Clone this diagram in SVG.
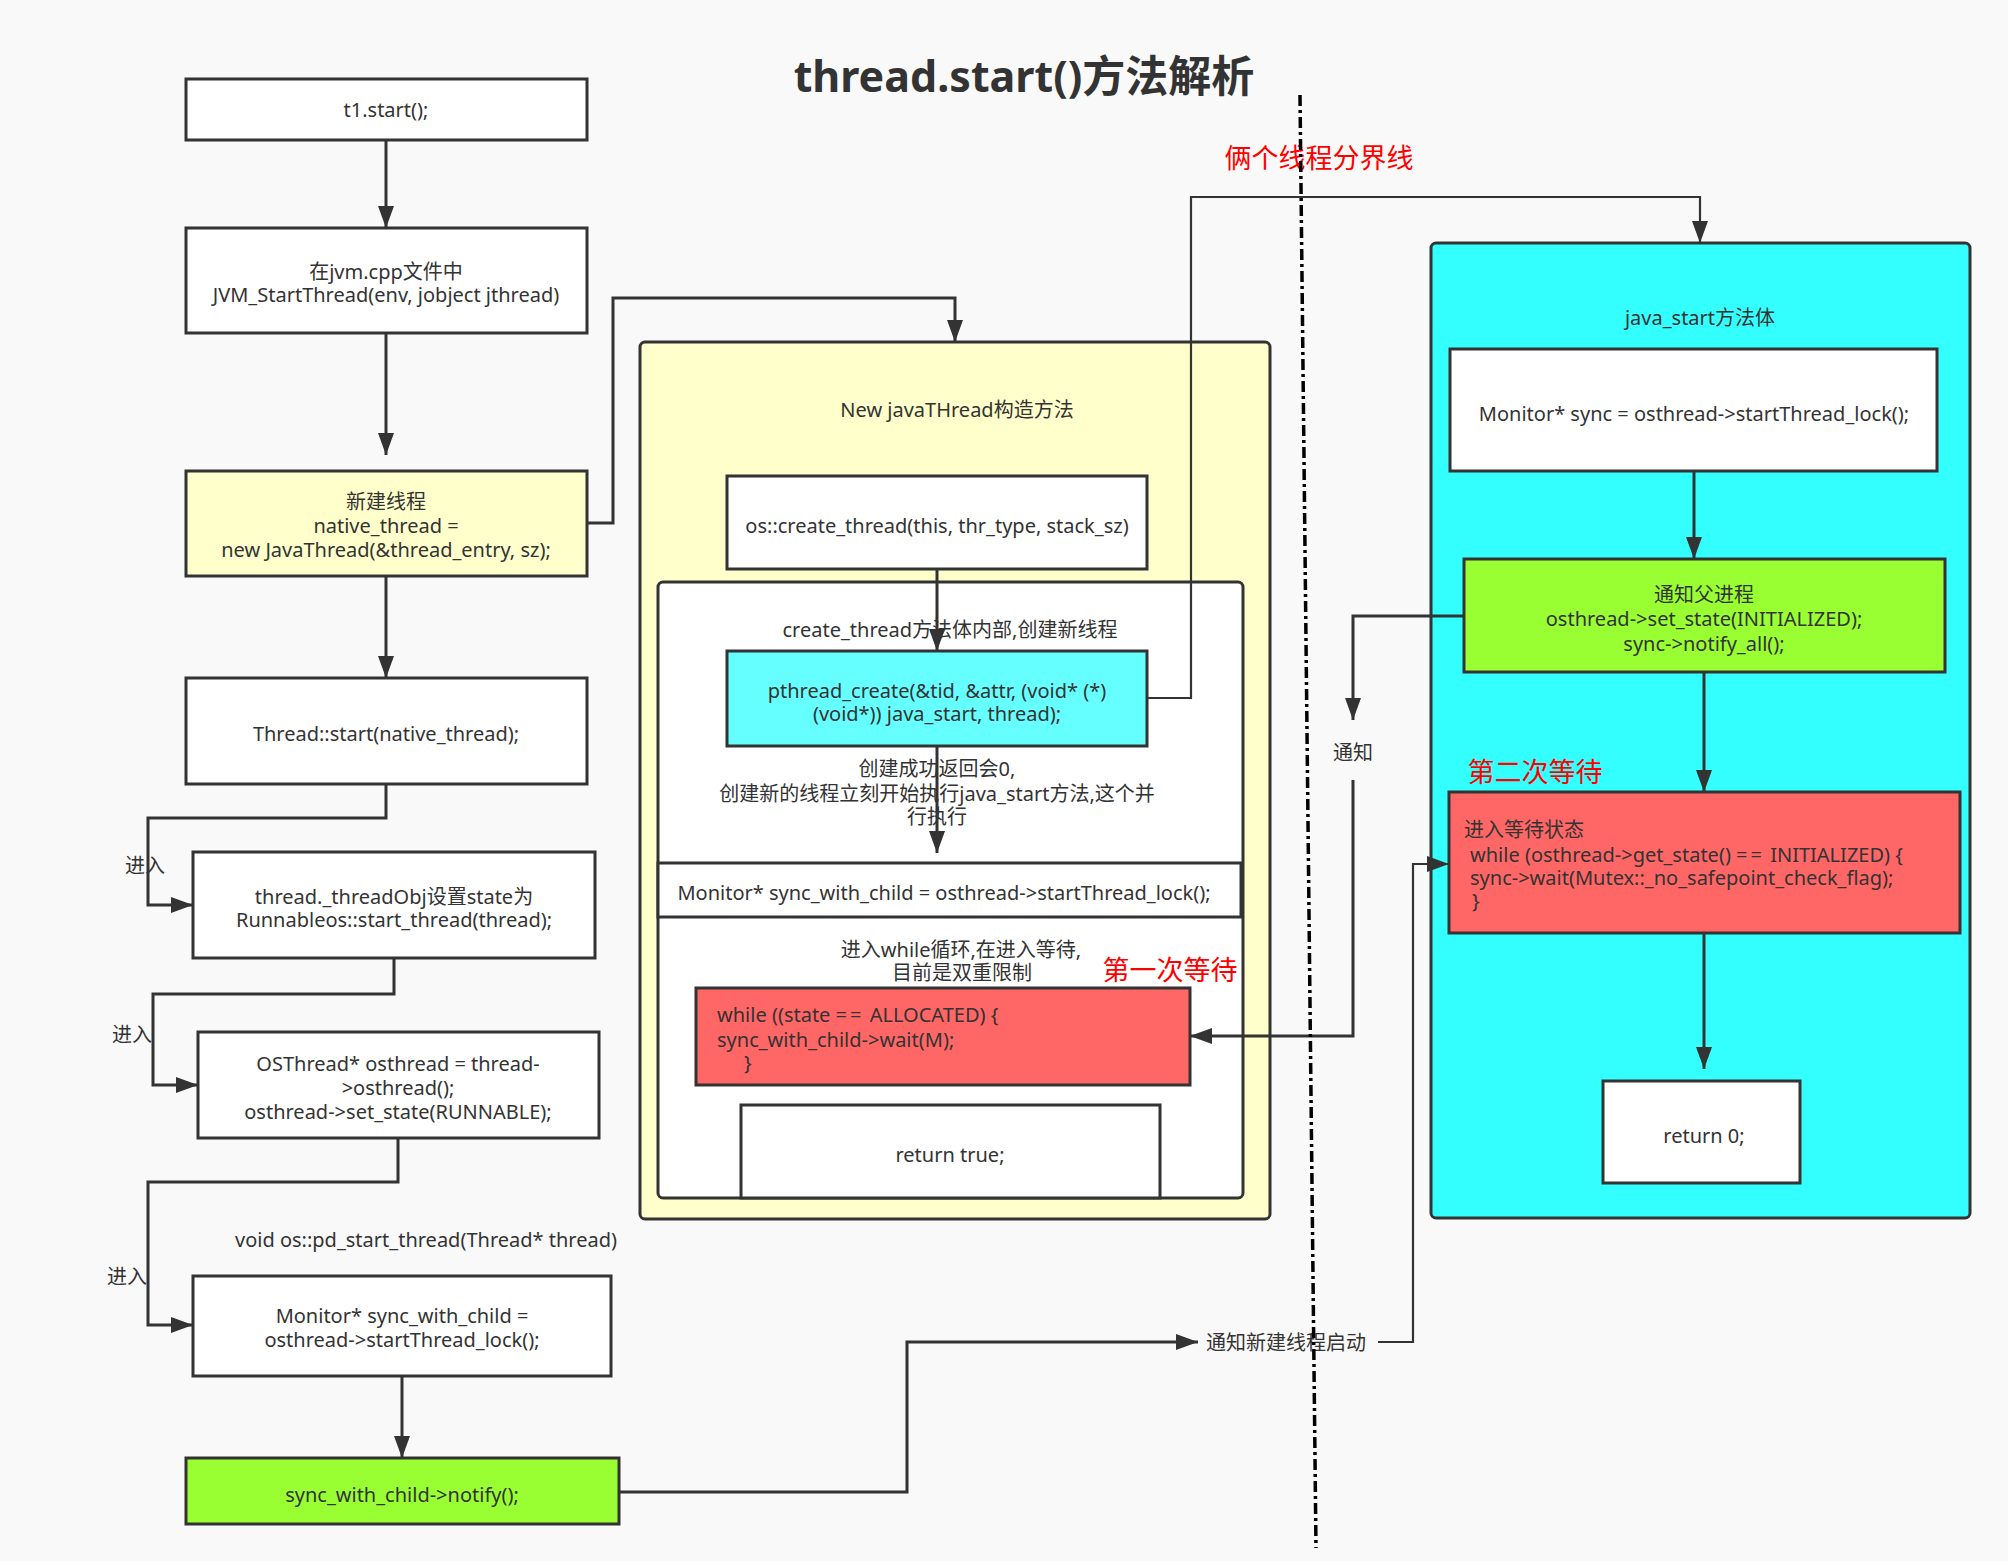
<svg xmlns="http://www.w3.org/2000/svg" width="2008" height="1561" viewBox="0 0 2008 1561">
<defs>
<marker id="arr" markerUnits="userSpaceOnUse" markerWidth="24" markerHeight="18" refX="22" refY="8" orient="auto">
<path d="M0,0 L22,8 L0,16 Z" fill="#333333"/>
</marker>
<style>
text{font-family:"Noto Sans","Noto Sans CJK SC",sans-serif;font-size:20px;fill:#333333}
.c{text-anchor:middle}
.red{fill:#ff0000;font-size:27px}
.box{stroke:#333333;stroke-width:3}
.w{fill:#ffffff}
.y{fill:#ffffcc}
.g{fill:#99ff33}
.r{fill:#ff6666}
.cy{fill:#66ffff}
.cy2{fill:#33ffff}
.ln{fill:none;stroke:#333333;stroke-width:3}
.ln2{fill:none;stroke:#333333;stroke-width:2.2}
.eq{letter-spacing:3px}
</style>
</defs>
<rect x="0" y="0" width="2008" height="1561" fill="#f9f9f9"/>

<text x="1024" y="92" class="c" style="font-size:43px;font-weight:bold">thread.start()方法解析</text>

<g id="container-javathread">
<rect x="640" y="342" width="630" height="877" rx="5" class="box y"/>
<text x="957" y="417" class="c">New javaTHread构造方法</text>
</g>
<g id="container-createthread">
<rect x="658" y="582" width="585" height="616" rx="5" class="box w"/>
<text x="950" y="637" class="c">create_thread方法体内部,创建新线程</text>
</g>
<g id="container-javastart">
<rect x="1431" y="243" width="539" height="975" rx="5" class="box cy2"/>
<text x="1700" y="325" class="c">java_start方法体</text>
</g>

<g id="n-t1start"><rect x="186" y="79" width="401" height="61" class="box w"/><text x="386" y="117" class="c">t1.start();</text></g>
<g id="n-jvm"><rect x="186" y="228" width="401" height="105" class="box w"/><text x="386" y="279" class="c">在jvm.cpp文件中</text><text x="386" y="302" class="c">JVM_StartThread(env, jobject jthread)</text></g>
<g id="n-newthread"><rect x="186" y="471" width="401" height="105" class="box y"/><text x="386" y="509" class="c">新建线程</text><text x="386" y="533" class="c">native_thread =</text><text x="386" y="557" class="c">new JavaThread(&amp;thread_entry, sz);</text></g>
<g id="n-threadstart"><rect x="186" y="678" width="401" height="106" class="box w"/><text x="386" y="741" class="c">Thread::start(native_thread);</text></g>
<g id="n-threadobj"><rect x="193" y="852" width="402" height="106" class="box w"/><text x="394" y="904" class="c">thread._threadObj设置state为</text><text x="394" y="927" class="c">Runnableos::start_thread(thread);</text></g>
<g id="n-osthread"><rect x="198" y="1032" width="401" height="106" class="box w"/><text x="398" y="1071" class="c">OSThread* osthread = thread-</text><text x="398" y="1095" class="c">&gt;osthread();</text><text x="398" y="1119" class="c">osthread-&gt;set_state(RUNNABLE);</text></g>
<g id="lbl-pdstart"><text x="426" y="1247" class="c">void os::pd_start_thread(Thread* thread)</text></g>
<g id="n-monitor1"><rect x="193" y="1276" width="418" height="100" class="box w"/><text x="402" y="1323" class="c">Monitor* sync_with_child =</text><text x="402" y="1347" class="c">osthread-&gt;startThread_lock();</text></g>
<g id="n-notify"><rect x="186" y="1458" width="433" height="66" class="box g"/><text x="402" y="1502" class="c">sync_with_child-&gt;notify();</text></g>

<g id="n-oscreate"><rect x="727" y="476" width="420" height="93" class="box w"/><text x="937" y="533" class="c">os::create_thread(this, thr_type, stack_sz)</text></g>
<g id="n-pthread"><rect x="727" y="651" width="420" height="95" class="box cy"/><text x="937" y="698" class="c">pthread_create(&amp;tid, &amp;attr, (void* (*)</text><text x="937" y="721" class="c">(void*)) java_start, thread);</text></g>
<g id="lbl-created"><text x="937" y="776" class="c">创建成功返回会0,</text><text x="937" y="801" class="c">创建新的线程立刻开始执行java_start方法,这个并</text><text x="937" y="824" class="c">行执行</text></g>
<g id="n-monitor2"><rect x="658" y="863" width="583" height="54" class="box w"/><text x="944" y="900" class="c">Monitor* sync_with_child = osthread-&gt;startThread_lock();</text></g>
<g id="lbl-while"><text x="961" y="957" class="c">进入while循环,在进入等待,</text><text x="962" y="980" class="c">目前是双重限制</text></g>
<g id="lbl-first"><text x="1170" y="980" class="c red">第一次等待</text></g>
<g id="n-while1"><rect x="696" y="988" width="494" height="97" class="box r"/><text x="717" y="1022">while ((state <tspan class="eq">==</tspan> ALLOCATED) {</text><text x="717" y="1047">sync_with_child-&gt;wait(M);</text><text x="744" y="1070">}</text></g>
<g id="n-returntrue"><rect x="741" y="1105" width="419" height="93" class="box w"/><text x="950" y="1162" class="c">return true;</text></g>

<g id="lbl-divider"><text x="1319" y="168" class="c red">俩个线程分界线</text></g>
<g id="n-monitor3"><rect x="1450" y="349" width="487" height="122" class="box w"/><text x="1694" y="421" class="c">Monitor* sync = osthread-&gt;startThread_lock();</text></g>
<g id="n-notifyparent"><rect x="1464" y="559" width="481" height="113" class="box g"/><text x="1704" y="602" class="c">通知父进程</text><text x="1704" y="626" class="c">osthread-&gt;set_state(INITIALIZED);</text><text x="1704" y="651" class="c">sync-&gt;notify_all();</text></g>
<g id="lbl-second"><text x="1535" y="782" class="c red">第二次等待</text></g>
<g id="n-while2"><rect x="1449" y="792" width="511" height="141" class="box r"/><text x="1464" y="837">进入等待状态</text><text x="1470" y="862">while (osthread-&gt;get_state() <tspan class="eq">==</tspan> INITIALIZED) {</text><text x="1470" y="885">sync-&gt;wait(Mutex::_no_safepoint_check_flag);</text><text x="1472" y="908">}</text></g>
<g id="n-return0"><rect x="1603" y="1081" width="197" height="102" class="box w"/><text x="1704" y="1143" class="c">return 0;</text></g>

<g id="connectors">
<path d="M386,140 V228" class="ln" marker-end="url(#arr)"/>
<path d="M386,333 V455" class="ln" marker-end="url(#arr)"/>
<path d="M386,576 V678" class="ln" marker-end="url(#arr)"/>
<path d="M386,784 V818 H148 V905 H193" class="ln" marker-end="url(#arr)"/>
<path d="M394,958 V994 H153 V1085 H198" class="ln" marker-end="url(#arr)"/>
<path d="M398,1138 V1182 H148 V1325 H193" class="ln" marker-end="url(#arr)"/>
<path d="M402,1376 V1458" class="ln" marker-end="url(#arr)"/>
<path d="M619,1492 H907 V1342 H1198" class="ln" marker-end="url(#arr)"/>
<path d="M1378,1342 H1413 V864 H1449" class="ln2" marker-end="url(#arr)"/>
<path d="M587,523 H613 V298 H955 V342" class="ln" marker-end="url(#arr)"/>
<path d="M937,569 V651" class="ln" marker-end="url(#arr)"/>
<path d="M937,746 V853" class="ln" marker-end="url(#arr)"/>
<path d="M1147,698 H1191 V197 H1700 V243" class="ln2" marker-end="url(#arr)"/>
<path d="M1694,471 V559" class="ln" marker-end="url(#arr)"/>
<path d="M1465,616 H1353 V720" class="ln" marker-end="url(#arr)"/>
<path d="M1353,780 V1036 H1190" class="ln" marker-end="url(#arr)"/>
<path d="M1704,672 V792" class="ln" marker-end="url(#arr)"/>
<path d="M1704,933 V1069" class="ln" marker-end="url(#arr)"/>
<text x="145" y="873" class="c">进入</text>
<text x="132" y="1042" class="c">进入</text>
<text x="127" y="1284" class="c">进入</text>
<text x="1353" y="760" class="c">通知</text>
<text x="1286" y="1350" class="c">通知新建线程启动</text>
<path d="M1300,95 L1316,1548" fill="none" stroke="#000000" stroke-width="3.5" stroke-dasharray="11 4 3 4"/>
</g>
</svg>
